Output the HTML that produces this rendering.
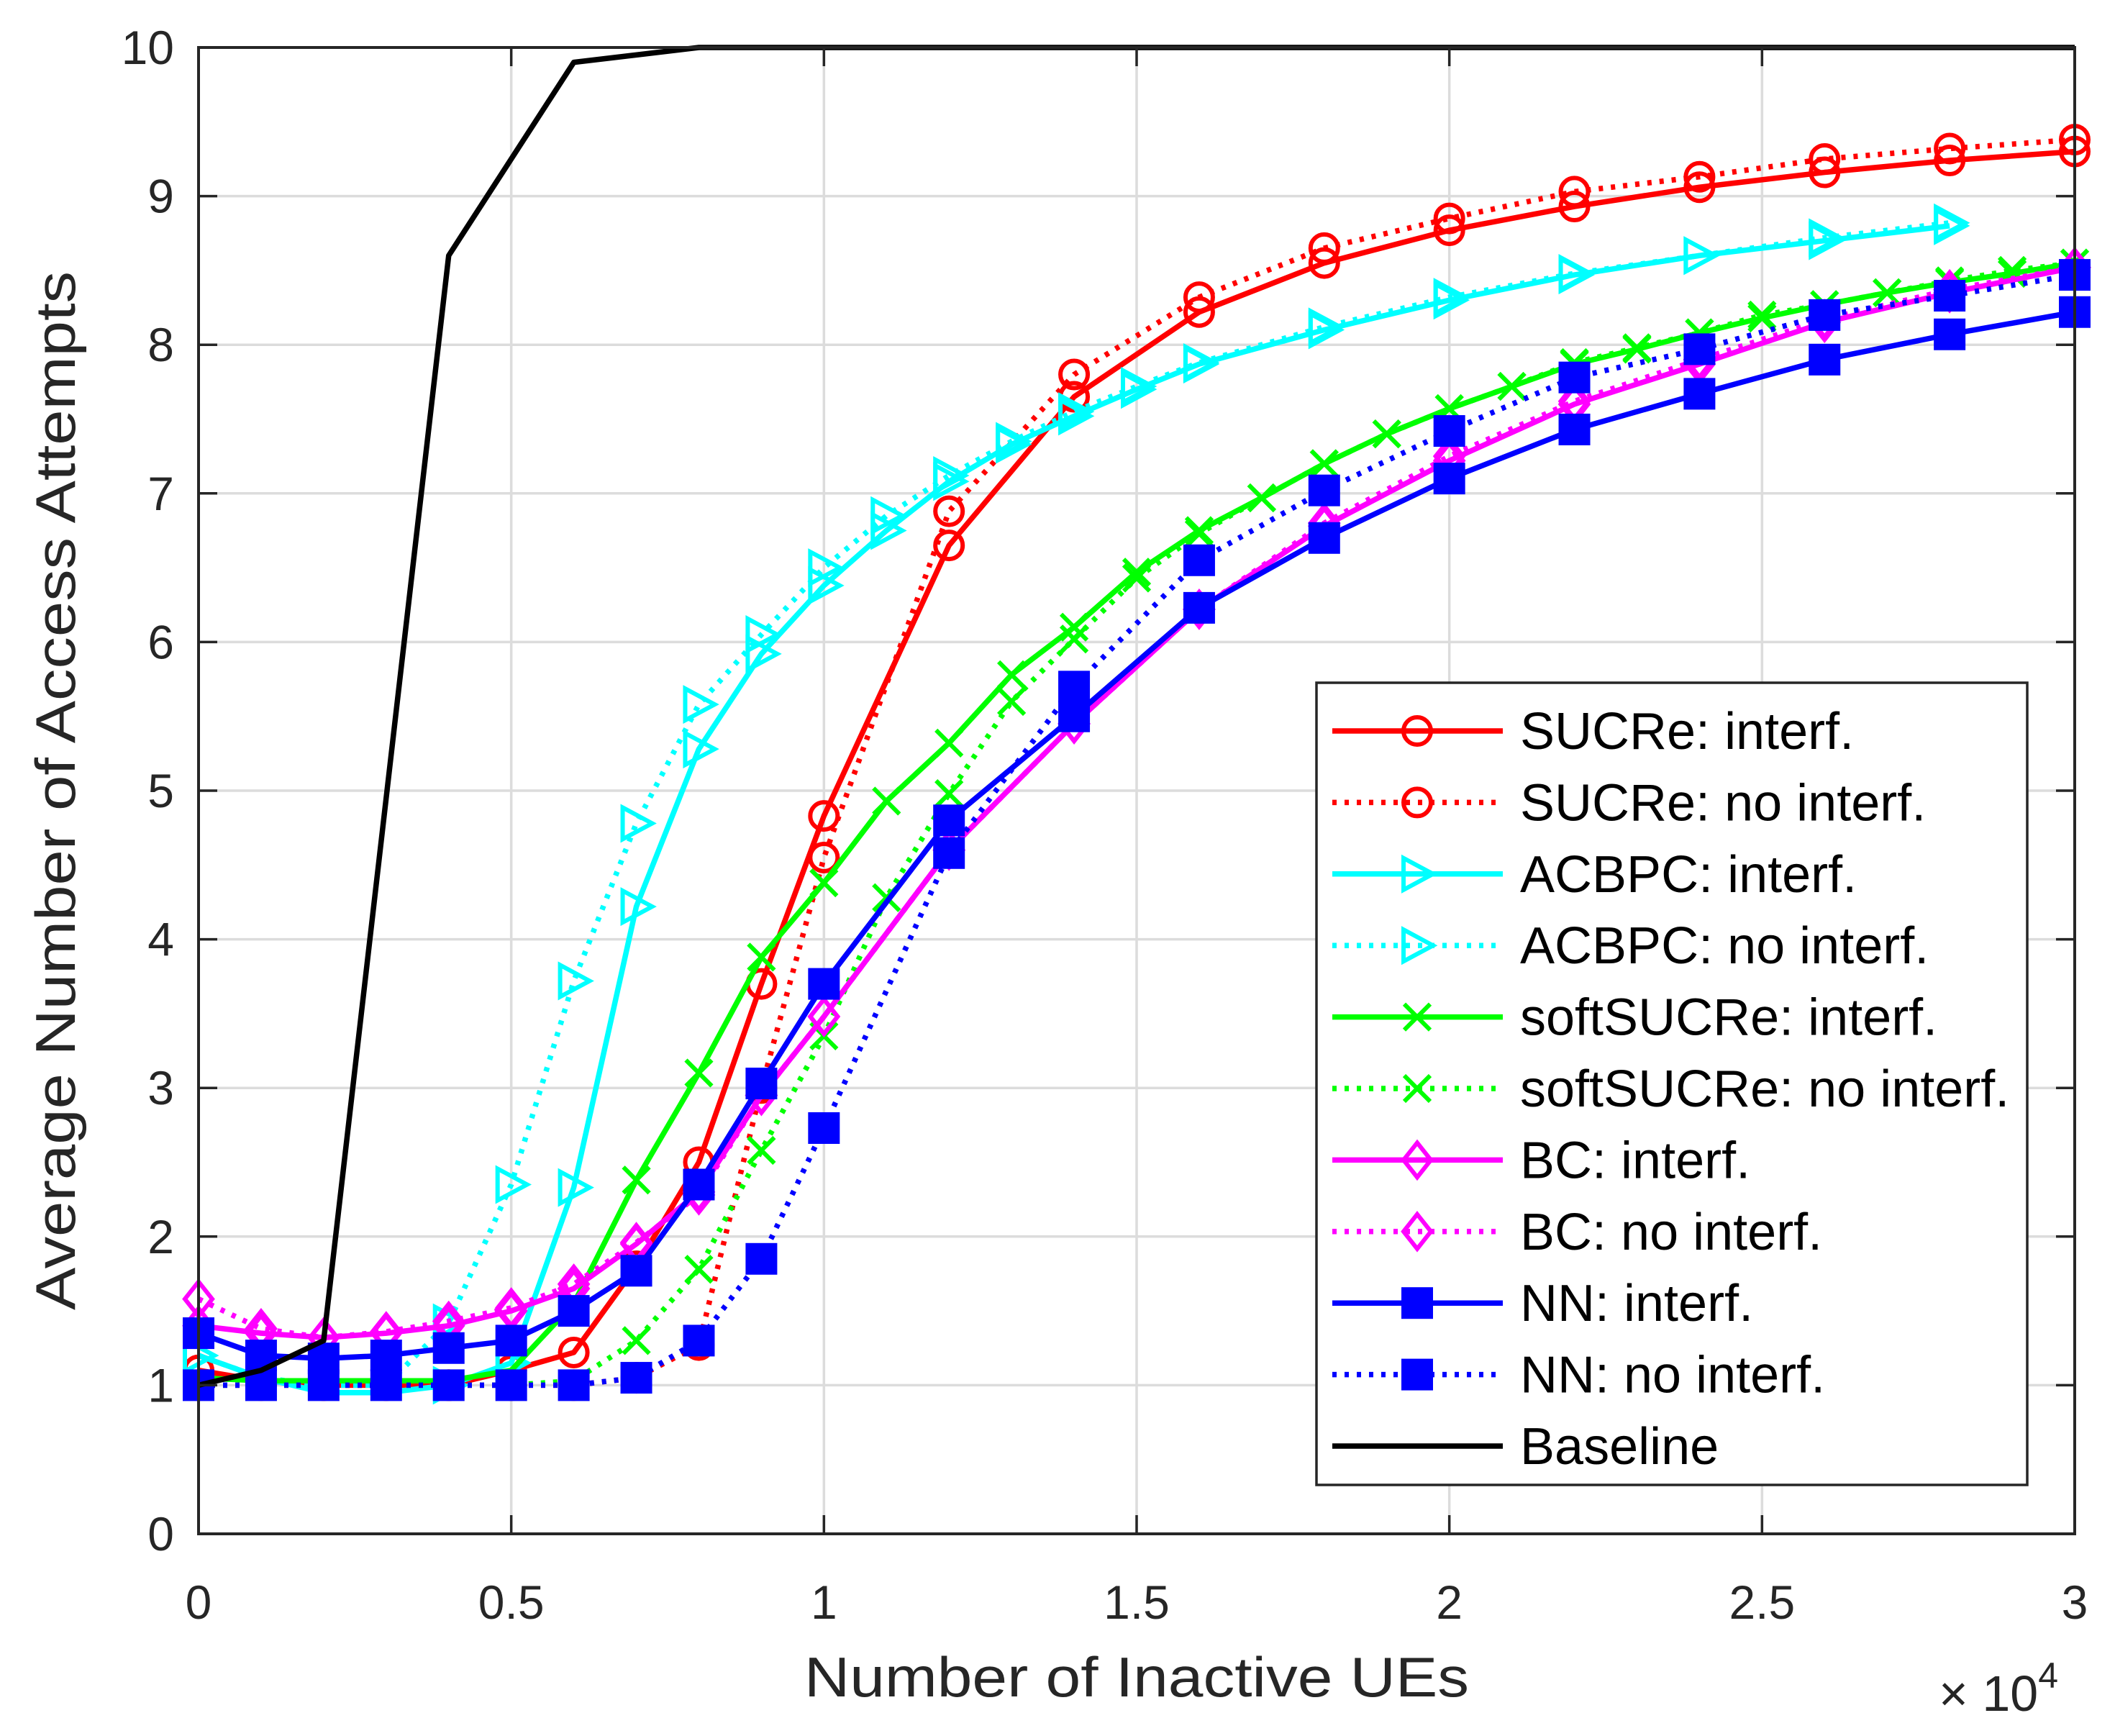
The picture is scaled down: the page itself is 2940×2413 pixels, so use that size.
<!DOCTYPE html>
<html><head><meta charset="utf-8">
<style>
html,body{margin:0;padding:0;background:#fff;}
svg{display:block;font-family:"Liberation Sans",sans-serif;}
</style></head>
<body>
<svg id="chart" width="2940" height="2413" viewBox="0 0 2940 2413" xmlns="http://www.w3.org/2000/svg">
<rect width="2940" height="2413" fill="#fff"/>
<g id="grid"></g>
<g id="series"></g>
<g id="axes"></g>
<g id="legend"></g>
</svg>
<script>
const xTicks=[0,5000,10000,15000,20000,25000,30000];
const xTickLabels=["0","0.5","1","1.5","2","2.5","3"];
const yTicks=[0,1,2,3,4,5,6,7,8,9,10];
const xsA=[0,1,2,3,4,5,6,7,8,9,10,12,14,16,18,20,22,24,26,28,30];
const xsFull=[0,1,2,3,4,5,6,7,8,9,10,11,12,13,14,15,16,17,18,19,20,21,22,23,24,25,26,27,28,29,30];
const xsAC=[0,1,2,3,4,5,6,7,8,9,10,11,12,13,14,15,16,18,20,22,24,26,28];
const xsBase=[0,1,2,4,6,8,10,15,20,25,30];
const baseline=[1,1.1,1.3,8.6,9.9,10,10,10,10,10,10];
const sucreI=[1.1,1.03,1.0,1.0,1.0,1.1,1.22,1.8,2.5,3.7,4.83,6.65,7.65,8.22,8.55,8.77,8.93,9.06,9.16,9.24,9.3];
const sucreN=[1.0,1.0,1.0,1.0,1.0,1.0,1.0,1.05,1.27,3.0,4.55,6.88,7.8,8.32,8.65,8.85,9.03,9.13,9.25,9.32,9.38];
const acbpcI=[1.2,1.05,0.95,0.95,1.0,1.15,2.33,4.22,5.28,5.92,6.38,6.75,7.08,7.33,7.52,7.7,7.87,8.1,8.3,8.47,8.6,8.7,8.8];
const acbpcN=[1.2,1.05,1.0,1.0,1.42,2.35,3.72,4.78,5.58,6.05,6.5,6.85,7.12,7.35,7.55,7.72,7.88,8.12,8.32,8.48,8.6,8.72,8.82];
const softI=[1.05,1.03,1.03,1.03,1.03,1.1,1.55,2.38,3.1,3.88,4.38,4.93,5.32,5.78,6.1,6.47,6.75,6.97,7.2,7.4,7.57,7.72,7.87,7.97,8.08,8.18,8.27,8.35,8.42,8.48,8.55];
const softN=[1.0,1.0,1.0,1.0,1.0,1.0,1.03,1.3,1.78,2.58,3.35,4.28,4.98,5.6,6.02,6.43,6.73,6.97,7.2,7.4,7.57,7.72,7.88,7.98,8.08,8.2,8.27,8.35,8.43,8.5,8.55];
const bcI=[1.4,1.35,1.32,1.35,1.4,1.5,1.65,1.95,2.3,2.95,3.48,4.6,5.45,6.22,6.78,7.22,7.6,7.87,8.15,8.35,8.52];
const bcN=[1.58,1.38,1.32,1.36,1.43,1.52,1.68,1.96,2.28,2.95,3.48,4.6,5.45,6.22,6.8,7.25,7.62,7.9,8.17,8.37,8.52];
const nnI=[1.35,1.2,1.18,1.2,1.25,1.3,1.5,1.77,2.35,3.03,3.7,4.8,5.5,6.23,6.7,7.1,7.43,7.67,7.9,8.07,8.22];
const nnN=[1.0,1.0,1.0,1.0,1.0,1.0,1.0,1.05,1.3,1.85,2.73,4.58,5.7,6.55,7.02,7.42,7.78,7.97,8.2,8.33,8.47];
const legendLabels=["SUCRe: interf.","SUCRe: no interf.","ACBPC: interf.","ACBPC: no interf.","softSUCRe: interf.","softSUCRe: no interf.","BC: interf.","BC: no interf.","NN: interf.","NN: no interf.","Baseline"];

const L=276,R=2884,T=66,B=2132;
const sx=v=>L+(v/30000)*(R-L);
const sy=v=>B-(v/10)*(B-T);
const NS="http://www.w3.org/2000/svg";
function mk(tag,attrs,parent){const e=document.createElementNS(NS,tag);for(const k in attrs)e.setAttribute(k,attrs[k]);parent.appendChild(e);return e;}
const grid=document.getElementById('grid'),axes=document.getElementById('axes'),ser=document.getElementById('series'),leg=document.getElementById('legend');

xTicks.forEach((t,i)=>{
 const g=mk('line',{x1:sx(t),x2:sx(t),y1:T,y2:B,stroke:'#dcdcdc','stroke-width':3.5},grid);
 
 
 const tk=mk('text',{x:sx(t),y:2250,'text-anchor':'middle','font-size':66,fill:'#262626'},axes);
 tk.textContent=xTickLabels[i];
 
 
 mk('line',{x1:sx(t),x2:sx(t),y1:B,y2:B-26,stroke:'#262626','stroke-width':3.5},axes);
 mk('line',{x1:sx(t),x2:sx(t),y1:T,y2:T+26,stroke:'#262626','stroke-width':3.5},axes);
});
yTicks.forEach(t=>{
 const g=mk('line',{x1:L,x2:R,y1:sy(t),y2:sy(t),stroke:'#dcdcdc','stroke-width':3.5},grid);
 
 
 const tk=mk('text',{x:242,y:sy(t)+23,'text-anchor':'end','font-size':66,fill:'#262626'},axes);
 tk.textContent=String(t);
 
 
 mk('line',{x1:L,x2:L+26,y1:sy(t),y2:sy(t),stroke:'#262626','stroke-width':3.5},axes);
 mk('line',{x1:R,x2:R-26,y1:sy(t),y2:sy(t),stroke:'#262626','stroke-width':3.5},axes);
});
const box=mk('rect',{x:L,y:T,width:R-L,height:B-T,fill:'none',stroke:'#262626','stroke-width':4},axes);


let t1=mk('text',{x:1580,y:2358,'text-anchor':'middle','font-size':78,fill:'#262626',textLength:924,lengthAdjust:'spacingAndGlyphs'},axes);
t1.textContent='Number of Inactive UEs';


let t2=mk('text',{x:2695,y:2378,'font-size':70,fill:'#262626'},axes);
t2.innerHTML='× 10<tspan font-size="50" dy="-32">4</tspan>';


let t3=mk('text',{x:0,y:0,'text-anchor':'middle','font-size':78,fill:'#262626',transform:'translate(104,1099) rotate(-90)',textLength:1444,lengthAdjust:'spacingAndGlyphs'},axes);
t3.textContent='Average Number of Access Attempts';



function marker(type,x,y,color,parent){
 const sw=6;let e;
 if(type==='o')e=mk('circle',{cx:x,cy:y,r:19,fill:'none',stroke:color,'stroke-width':sw},parent);
 else if(type==='>')e=mk('path',{d:`M${x-19},${y-22}L${x+22},${y}L${x-19},${y+22}Z`,fill:'none',stroke:color,'stroke-width':sw},parent);
 else if(type==='x')e=mk('path',{d:`M${x-18},${y-18}L${x+18},${y+18}M${x-18},${y+18}L${x+18},${y-18}`,fill:'none',stroke:color,'stroke-width':sw},parent);
 else if(type==='d')e=mk('path',{d:`M${x},${y-24}L${x+19},${y}L${x},${y+24}L${x-19},${y}Z`,fill:'none',stroke:color,'stroke-width':sw},parent);
 else if(type==='s')e=mk('rect',{x:x-21,y:y-21,width:42,height:42,fill:color,stroke:color,'stroke-width':2},parent);
 return e;
}
const seriesDefs=[
 {name:'sucre-interf',xs:xsA,ys:sucreI,c:'#ff0000',dash:false,m:'o'},
 {name:'sucre-no-interf',xs:xsA,ys:sucreN,c:'#ff0000',dash:true,m:'o'},
 {name:'acbpc-interf',xs:xsAC,ys:acbpcI,c:'#00ffff',dash:false,m:'>'},
 {name:'acbpc-no-interf',xs:xsAC,ys:acbpcN,c:'#00ffff',dash:true,m:'>'},
 {name:'softsucre-interf',xs:xsFull,ys:softI,c:'#00ff00',dash:false,m:'x'},
 {name:'softsucre-no-interf',xs:xsFull,ys:softN,c:'#00ff00',dash:true,m:'x'},
 {name:'bc-interf',xs:xsA,ys:bcI,c:'#ff00ff',dash:false,m:'d'},
 {name:'bc-no-interf',xs:xsA,ys:bcN,c:'#ff00ff',dash:true,m:'d'},
 {name:'nn-interf',xs:xsA,ys:nnI,c:'#0000ff',dash:false,m:'s'},
 {name:'nn-no-interf',xs:xsA,ys:nnN,c:'#0000ff',dash:true,m:'s'},
 {name:'baseline',xs:xsBase,ys:baseline,c:'#000000',dash:false,m:null}
];
seriesDefs.forEach(s=>{
 const g=mk('g',{},ser);
 
 
 const pts=s.xs.map((x,i)=>sx(x*1000)+','+sy(s.ys[i])).join(' ');
 const a={points:pts,fill:'none',stroke:s.c,'stroke-width':7.5,'stroke-linejoin':'round'};
 if(s.dash)a['stroke-dasharray']='6 11';
 const pl=mk('polyline',a,g);
 
 
 if(s.m){
  s.xs.forEach((x,i)=>{
   if(s.m==='x'&&x<7)return;
   if(s.m==='>'&&x<4&&x!==0)return;
   const mm=marker(s.m,sx(x*1000),sy(s.ys[i]),s.c,g);
   
   
  });
 }
});

const lb=mk('rect',{x:1830,y:949,width:988,height:1115,fill:'#fff',stroke:'#262626','stroke-width':3.5},leg);


seriesDefs.forEach((s,i)=>{
 const y=1016+i*99.4;
 const g=mk('g',{},leg);
 
 
 const a={x1:1852,x2:2089,y1:y,y2:y,stroke:s.c,'stroke-width':7.5};
 if(s.dash)a['stroke-dasharray']='6 11';
 mk('line',a,g);
 if(s.m)marker(s.m,1970,y,s.c,g);
 const t=mk('text',{x:2113,y:y+25,'font-size':72,fill:'#000'},g);
 t.textContent=legendLabels[i];
});
</script>
</body></html>
